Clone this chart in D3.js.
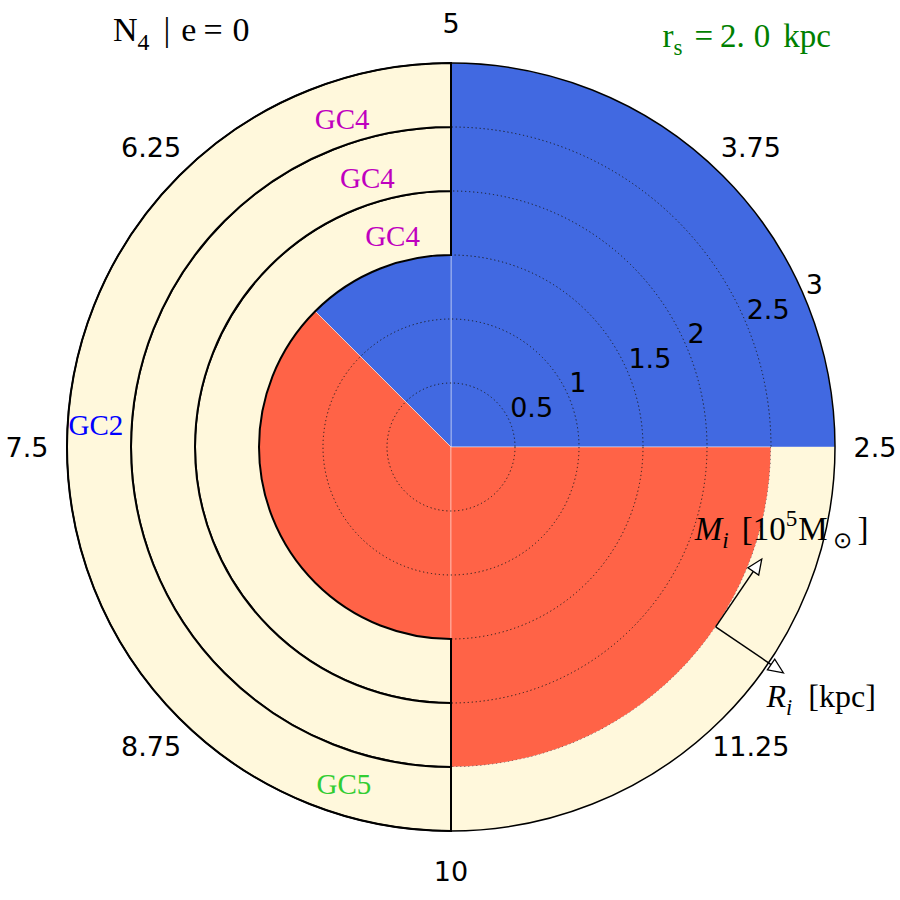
<!DOCTYPE html>
<meta charset="utf-8">
<html><head>
<style>
body { margin: 0; background: #fff; }
.tick { font-family: "DejaVu Sans", sans-serif; font-size: 27px; fill: #000; }
.math { font-family: "Liberation Serif", serif; }
</style>
</head>
<body>
<svg width="900" height="900"></svg>
<script src="https://d3js.org/d3.v7.min.js"></script>
<script>

// angle axis: M_i in 1e5 Msun, radius: R_i in kpc
var wedgeFrom = [2.5, 5, 6.25, 10],
    wedgeTo   = [5, 6.25, 10, 12.5],
    wedgeR    = [3, 1.5, 1.5, 2.5],
    wedgeKind = ["blue", "blue", "red", "red"];

// GC shells drawn over the wedges
var ringFrom  = [10, 5, 5, 5],
    ringTo    = [12.5, 10, 10, 10],
    ringInner = [2.5, 1.5, 2, 2.5],
    ringOuter = [3, 2, 2.5, 3],
    ringEdged = [false, true, true, true];

var gcNames = ["GC4", "GC4", "GC4", "GC2", "GC5"],
    gcTheta = [5.43, 5.48, 5.51, 7.40, 9.51],
    gcR     = [1.71, 2.20, 2.70, 2.78, 2.76];

var thetaTicks = [2.5, 3.75, 5, 6.25, 7.5, 8.75, 10, 11.25],
    rTicks = [0.5, 1, 1.5, 2, 2.5, 3];

var arrowTheta = 11.55, arrowR = 2.5;

var kindColor = { blue: "#4169e1", red: "#ff6347" };
var gcColor = { GC4: "#bf00bf", GC2: "#0000ff", GC5: "#32cd32" };

var svg = d3.select("svg"),
    cx = 451, cy = 447;

var theta = d3.scaleLinear().domain([2.5, 12.5]).range([0, 2 * Math.PI]);
var r = d3.scaleLinear().domain([0, 3]).range([0, 384]);

function pt(t, rr) {
  var a = theta(t);
  return [cx + r(rr) * Math.cos(a), cy - r(rr) * Math.sin(a)];
}

var arc = d3.arc()
    .innerRadius(function(d) { return r(d.r0); })
    .outerRadius(function(d) { return r(d.r1); })
    .startAngle(function(d) { return Math.PI / 2 - theta(d.t0); })
    .endAngle(function(d) { return Math.PI / 2 - theta(d.t1); });

var g = svg.append("g").attr("transform", "translate(" + cx + "," + cy + ")");

var wedges = wedgeFrom.map(function(t0, i) {
  return { t0: t0, t1: wedgeTo[i], r0: 0, r1: wedgeR[i], kind: wedgeKind[i] };
});

g.append("g").selectAll("path")
  .data(wedges)
  .enter().append("path")
    .attr("d", arc)
    .attr("fill", function(d) { return kindColor[d.kind]; })
    .attr("stroke", "rgba(255,255,255,0.45)")
    .attr("stroke-width", 1);

// dotted radial grid
g.append("g").selectAll("circle")
  .data(rTicks.filter(function(v) { return v < 3; }))
  .enter().append("circle")
    .attr("r", function(v) { return r(v); })
    .attr("fill", "none")
    .attr("stroke", "#1a1a1a")
    .attr("stroke-width", 1)
    .attr("stroke-dasharray", "1.2,2.8");

var rings = ringFrom.map(function(t0, i) {
  return { t0: t0, t1: ringTo[i], r0: ringInner[i], r1: ringOuter[i], edged: ringEdged[i] };
});

g.append("g").selectAll("path")
  .data(rings)
  .enter().append("path")
    .attr("d", arc)
    .attr("fill", "#fff8dc")
    .attr("stroke", function(d) { return d.edged ? "#000" : "none"; })
    .attr("stroke-width", 2);

// polar frame
g.append("circle")
    .attr("r", r(3))
    .attr("fill", "none")
    .attr("stroke", "#000")
    .attr("stroke-width", 1.5);

// GC names
svg.append("g").selectAll("text")
  .data(gcNames)
  .enter().append("text")
    .attr("class", "math")
    .attr("x", function(d, i) { return pt(gcTheta[i], gcR[i])[0]; })
    .attr("y", function(d, i) { return pt(gcTheta[i], gcR[i])[1]; })
    .attr("text-anchor", "middle")
    .attr("dominant-baseline", "central")
    .attr("font-size", 29)
    .attr("fill", function(d) { return gcColor[d]; })
    .text(function(d) { return d; });

// angular tick labels
svg.append("g").selectAll("text")
  .data(thetaTicks)
  .enter().append("text")
    .attr("class", "tick")
    .attr("x", function(v) { var a = theta(v); return cx + (r(3) + 40) * Math.cos(a); })
    .attr("y", function(v) { var a = theta(v); return cy - (r(3) + 40) * Math.sin(a); })
    .attr("text-anchor", "middle")
    .attr("dominant-baseline", "central")
    .text(function(v) { return String(v); });

// radial tick labels at 22.5 deg
var rlab = Math.PI / 8;
svg.append("g").selectAll("text")
  .data(rTicks)
  .enter().append("text")
    .attr("class", "tick")
    .attr("x", function(v) { return cx + r(v) * Math.cos(rlab); })
    .attr("y", function(v) { return cy - r(v) * Math.sin(rlab) - 6; })
    .attr("text-anchor", "start")
    .text(function(v) { return String(v); });

// math-ish text helper
function mathText(sel, fs, parts) {
  var shift = 0;
  parts.forEach(function(p) {
    var target = p.sub ? 0.25 : p.sup ? -0.42 : 0;
    var ts = sel.append("tspan").text(p.t)
        .attr("font-size", (p.sub || p.sup) ? fs * 0.7 : fs)
        .attr("dy", (target - shift) * fs);
    if (p.it) ts.attr("font-style", "italic");
    if (p.dx) ts.attr("dx", p.dx);
    shift = target;
  });
}

// arrows
var a0 = theta(arrowTheta),
    p0 = pt(arrowTheta, arrowR),
    radial = [Math.cos(a0), -Math.sin(a0)],
    tangent = [-Math.sin(a0), -Math.cos(a0)];

function arrow(dir, len) {
  var head = 15, hw = 6.5;
  var tip = [p0[0] + dir[0] * len, p0[1] + dir[1] * len];
  var base = [tip[0] - dir[0] * head, tip[1] - dir[1] * head];
  var nrm = [-dir[1], dir[0]];
  svg.append("line")
      .attr("x1", p0[0]).attr("y1", p0[1])
      .attr("x2", base[0]).attr("y2", base[1])
      .attr("stroke", "#000").attr("stroke-width", 1.5);
  svg.append("path")
      .attr("d", d3.line()([tip,
        [base[0] + nrm[0] * hw, base[1] + nrm[1] * hw],
        [base[0] - nrm[0] * hw, base[1] - nrm[1] * hw]]) + "Z")
      .attr("fill", "#fff").attr("stroke", "#000").attr("stroke-width", 1.3);
  return tip;
}

var tipM = arrow(tangent, 82),
    tipR = arrow(radial, 82);

var mLab = svg.append("text").attr("class", "math")
    .attr("x", tipM[0] - 67).attr("y", tipM[1] - 19)
    .attr("text-anchor", "start");
mathText(mLab, 33, [
  { t: "M", it: true }, { t: "i", it: true, sub: true },
  { t: "[10", dx: 13 }, { t: "5", sup: true }, { t: "M", dx: 1 }, { t: "\u2299", sub: true, dx: 5 }, { t: "]", dx: 6 }
]);

var rLab = svg.append("text").attr("class", "math")
    .attr("x", tipR[0] - 17).attr("y", tipR[1] + 34)
    .attr("text-anchor", "start");
mathText(rLab, 32, [
  { t: "R", it: true }, { t: "i", it: true, sub: true }, { t: "[kpc]", dx: 16 }
]);

// titles
var tl = svg.append("text").attr("class", "math")
    .attr("x", 113).attr("y", 41).attr("text-anchor", "start");
mathText(tl, 34, [
  { t: "N" }, { t: "4", sub: true }, { t: "|", dx: 14 }, { t: "e", dx: 11 },
  { t: "=", dx: 7 }, { t: "0", dx: 10 }
]);

var tr = svg.append("text").attr("class", "math")
    .attr("x", 831).attr("y", 47).attr("text-anchor", "end").attr("fill", "#008000");
mathText(tr, 33, [
  { t: "r" }, { t: "s", sub: true }, { t: "=", dx: 12 }, { t: "2.", dx: 7 },
  { t: "0", dx: 9 }, { t: "kpc", dx: 13 }
]);

</script>
</body>
</html>
